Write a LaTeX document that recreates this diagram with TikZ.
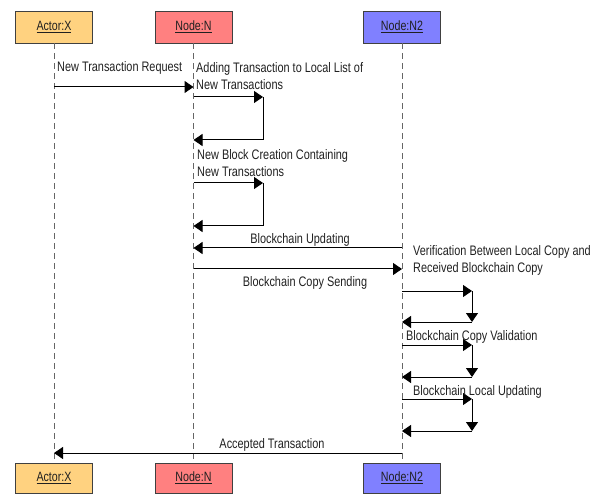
\documentclass[tikz,border=0pt]{standalone}
\usepackage{fontspec}
\setmainfont{Liberation Sans}[FakeStretch=0.79]
\usetikzlibrary{arrows.meta}
\definecolor{actorfill}{HTML}{FFD280}
\definecolor{nfill}{HTML}{FF8080}
\definecolor{ntwofill}{HTML}{8080FF}
\definecolor{boxline}{HTML}{404040}
\definecolor{txt}{HTML}{202020}
\tikzset{
  lifebox/.style={draw=boxline, line width=0.9pt, minimum width=77pt, minimum height=32pt, inner sep=0pt, text=txt, font=\fontsize{13.5}{15}\selectfont},
  lifeline/.style={draw=gray!80!black, dash pattern=on 6pt off 4pt, line width=0.8pt},
  msg/.style={draw=black, line width=1pt, -{Triangle[length=9pt,width=12pt]}},
  lbl/.style={inner sep=0pt, text=txt, font=\fontsize{13.8}{17}\selectfont, align=left},
}
\begin{document}
\begin{tikzpicture}[x=1pt,y=-1pt]
\useasboundingbox (0,0) rectangle (602,494);
% top boxes
\node[lifebox, fill=actorfill] (xt) at (54,27) {\underline{Actor:X}};
\node[lifebox, fill=nfill] (nt) at (193.5,27) {\underline{Node:N}};
\node[lifebox, fill=ntwofill] (mt) at (402,27) {\underline{Node:N2}};
% bottom boxes
\node[lifebox, fill=actorfill, minimum height=30pt] (xb) at (54,478) {\underline{Actor:X}};
\node[lifebox, fill=nfill, minimum height=30pt] (nb) at (193.5,478) {\underline{Node:N}};
\node[lifebox, fill=ntwofill, minimum height=30pt] (mb) at (402,478) {\underline{Node:N2}};
% lifelines
\draw[lifeline] (xt.south) -- (xb.north);
\draw[lifeline] (nt.south) -- (nb.north);
\draw[lifeline] (mt.south) -- (mb.north);
% coordinates
\coordinate (x1) at (54,87);   \coordinate (n1) at (193.5,87);
\coordinate (n2) at (193.5,97); \coordinate (r2) at (263,97);
\coordinate (r3) at (263,140); \coordinate (n3) at (193.5,140);
\coordinate (n4) at (193.5,183); \coordinate (r4) at (263,183);
\coordinate (r5) at (263,226); \coordinate (n5) at (193.5,226);
\coordinate (m6) at (402,248); \coordinate (n6) at (193.5,248);
\coordinate (n7) at (193.5,269); \coordinate (m7) at (402,269);
\coordinate (m8) at (402,291); \coordinate (s8) at (472,291);
\coordinate (s9) at (472,322); \coordinate (m9) at (402,322);
\coordinate (m10) at (402,345); \coordinate (s10) at (472,345);
\coordinate (s11) at (472,377); \coordinate (m11) at (402,377);
\coordinate (m12) at (402,399); \coordinate (s12) at (472,399);
\coordinate (s13) at (472,431); \coordinate (m13) at (402,431);
\coordinate (m14) at (402,453); \coordinate (x14) at (54,453);
% messages
\draw[msg] (x1) -- (n1);
\draw[msg] (n2) -- (r2);
\draw[msg] (r2) -- (r3) -- (n3);
\draw[msg] (n4) -- (r4);
\draw[msg] (r4) -- (r5) -- (n5);
\draw[msg] (m6) -- (n6);
\draw[msg] (n7) -- (m7);
\draw[msg] (m8) -- (s8);
\draw[msg] (s8) -- (s9);
\draw[msg] (s9) -- (m9);
\draw[msg] (m10) -- (s10);
\draw[msg] (s10) -- (s11);
\draw[msg] (s11) -- (m11);
\draw[msg] (m12) -- (s12);
\draw[msg] (s12) -- (s13);
\draw[msg] (s13) -- (m13);
\draw[msg] (m14) -- (x14);
% labels
\node[lbl, anchor=west] (l1) at (57,68) {New Transaction Request};
\node[lbl, anchor=west] (l2) at (196,76.5) {Adding Transaction to Local List of\\New Transactions};
\node[lbl, anchor=west] (l3) at (197,163.5) {New Block Creation Containing\\New Transactions};
\node[lbl] (l4) at (300,240) {Blockchain Updating};
\node[lbl, anchor=west] (l5) at (413,260) {Verification Between Local Copy and\\Received Blockchain Copy};
\node[lbl] (l6) at (305,283) {Blockchain Copy Sending};
\node[lbl, anchor=west] (l7) at (406,337) {Blockchain Copy Validation};
\node[lbl, anchor=west] (l8) at (413,392) {Blockchain Local Updating};
\node[lbl] (l9) at (272,445) {Accepted Transaction};
\end{tikzpicture}
\end{document}
